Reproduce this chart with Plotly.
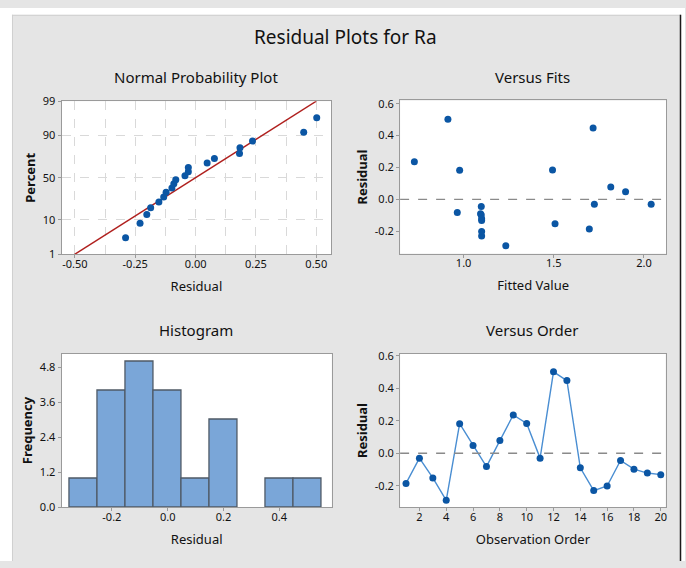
import statistics
import plotly.graph_objects as go

W, H = 686, 568

# Residuals in observation order and their fitted values
observation = list(range(1, 21))
residuals = [-0.186, -0.030, -0.152, -0.290, 0.182, 0.048, -0.082, 0.078, 0.236, 0.184,
             -0.030, 0.502, 0.448, -0.090, -0.230, -0.202, -0.044, -0.098, -0.122, -0.132]
fitted = [1.697, 1.725, 1.507, 1.234, 0.978, 1.898, 0.965, 1.816, 0.727, 1.493,
          2.040, 0.913, 1.718, 1.094, 1.100, 1.100, 1.098, 1.098, 1.100, 1.100]

pct_ticks = [1, 10, 50, 90, 99]
npp_xticks = [-0.50, -0.25, 0.00, 0.25, 0.50]
hist_yticks = [0.0, 1.2, 2.4, 3.6, 4.8]
hist_xticks = [-0.2, 0.0, 0.2, 0.4]
res_yticks = [-0.2, 0.0, 0.2, 0.4, 0.6]
fit_xticks = [1.0, 1.5, 2.0]
order_xticks = [2, 4, 6, 8, 10, 12, 14, 16, 18, 20]

nd = statistics.NormalDist()
n = len(residuals)
srt = sorted(residuals)
z_pts = [nd.inv_cdf((i + 1 - 0.3) / (n + 0.4)) for i in range(n)]
mu = statistics.mean(residuals)
sd = statistics.stdev(residuals)
z_lo, z_hi = nd.inv_cdf(0.01), nd.inv_cdf(0.99)

FONT = "Noto Sans"
DOT = "#0b56a4"
LINE = "#4a8ed2"
AXC = "#9a9a9a"


def fx(px):
    return px / W


def fy(py):
    return 1 - py / H


fig = go.Figure()

# Normal probability plot
fig.add_trace(go.Scatter(x=[mu + sd * z_lo, mu + sd * z_hi], y=[z_lo, z_hi], mode="lines",
                         line=dict(color="#b0201e", width=1.4), xaxis="x", yaxis="y",
                         showlegend=False, hoverinfo="skip"))
fig.add_trace(go.Scatter(x=srt, y=z_pts, mode="markers", marker=dict(color=DOT, size=7),
                         xaxis="x", yaxis="y", showlegend=False))

# Versus fits
fig.add_trace(go.Scatter(x=fitted, y=residuals, mode="markers", marker=dict(color=DOT, size=7),
                         xaxis="x2", yaxis="y2", showlegend=False))

# Histogram
fig.add_trace(go.Histogram(x=residuals, xbins=dict(start=-0.35, end=0.55, size=0.1),
                           marker=dict(color="#7aa6d8", line=dict(color="#4f5a66", width=1.3)),
                           xaxis="x3", yaxis="y3", showlegend=False))

# Versus order
fig.add_trace(go.Scatter(x=observation, y=residuals, mode="lines+markers",
                         line=dict(color=LINE, width=1.4), marker=dict(color=DOT, size=7),
                         xaxis="x4", yaxis="y4", showlegend=False))

tickfont = dict(family=FONT, size=11, color="#111")
xtitle_font = dict(family=FONT, size=13, color="#111")
ytitle_font = dict(family=FONT, size=13, color="#111", weight="bold")


def ax(domain, rng, tickvals, ticktext=None, **kw):
    d = dict(domain=domain, range=rng, tickvals=tickvals, showline=True, linecolor=AXC,
             linewidth=1, mirror=True, ticks="outside", ticklen=3, tickcolor=AXC,
             tickfont=tickfont, showgrid=False, zeroline=False, fixedrange=True)
    if ticktext is not None:
        d["ticktext"] = ticktext
    d.update(kw)
    return d


XSTAND = -4
XTSTAND = 12

fig.update_layout(
    width=W, height=H,
    margin=dict(l=0, r=0, t=0, b=0),
    paper_bgcolor="#e5e5e5",
    plot_bgcolor="white",
    font=dict(family=FONT, color="#111"),
    bargap=0,
    xaxis=ax([fx(61.7), fx(331.7)], [-0.555, 0.562], npp_xticks,
             [f"{v:.2f}" for v in npp_xticks], anchor="y", ticklabelstandoff=XSTAND,
             showgrid=True, gridcolor="#d9d9d9", griddash="dash",
             minor=dict(dtick=0.125, tick0=0, showgrid=True, gridcolor="#d9d9d9",
                        griddash="dash"),
             title=dict(text="Residual", font=xtitle_font, standoff=XTSTAND)),
    yaxis=ax([fy(253), fy(95.7)], [z_lo, z_hi], [nd.inv_cdf(p / 100) for p in pct_ticks],
             [str(p) for p in pct_ticks], anchor="x",
             showgrid=True, gridcolor="#d9d9d9", griddash="dash",
             title=dict(text="Percent", font=ytitle_font, standoff=4)),
    xaxis2=ax([fx(400.7), fx(667.3)], [0.648, 2.124], fit_xticks,
              [f"{v:.1f}" for v in fit_xticks], anchor="y2", ticklabelstandoff=XSTAND,
              title=dict(text="Fitted Value", font=xtitle_font, standoff=XTSTAND)),
    yaxis2=ax([fy(252.3), fy(95)], [-0.34, 0.62], res_yticks,
              [f"{v:.1f}" for v in res_yticks], anchor="x2",
              title=dict(text="Residual", font=ytitle_font, standoff=4)),
    xaxis3=ax([fx(61.7), fx(332.3)], [-0.38, 0.588], hist_xticks,
              [f"{v:.1f}" for v in hist_xticks], anchor="y3", ticklabelstandoff=XSTAND,
              title=dict(text="Residual", font=xtitle_font, standoff=XTSTAND)),
    yaxis3=ax([fy(513), fy(355)], [0, 5.28], hist_yticks,
              [f"{v:.1f}" for v in hist_yticks], anchor="x3",
              title=dict(text="Frequency", font=ytitle_font, standoff=4)),
    xaxis4=ax([fx(400.7), fx(666.7)], [0.56, 20.37], order_xticks, anchor="y4",
              ticklabelstandoff=XSTAND,
              title=dict(text="Observation Order", font=xtitle_font, standoff=XTSTAND)),
    yaxis4=ax([fy(513), fy(355)], [-0.334, 0.614], res_yticks,
              [f"{v:.1f}" for v in res_yticks], anchor="x4",
              title=dict(text="Residual", font=ytitle_font, standoff=4)),
)

# Zero reference lines on the residual panels
for xa, ya in (("x2", "y2"), ("x4", "y4")):
    fig.add_shape(type="line", xref=f"{xa} domain", yref=ya, x0=0, x1=1, y0=0, y1=0,
                  line=dict(color="#8a8a8a", width=1.3, dash="dash"))

# Window frame around the panel
fig.add_shape(type="rect", xref="paper", yref="paper", x0=0, x1=1, y0=fy(7), y1=1,
              line=dict(width=0), fillcolor="white", layer="below")
fig.add_shape(type="rect", xref="paper", yref="paper", x0=0, x1=fx(12), y0=0, y1=1,
              line=dict(width=0), fillcolor="white", layer="below")
fig.add_shape(type="rect", xref="paper", yref="paper", x0=fx(682), x1=1, y0=0, y1=1,
              line=dict(width=0), fillcolor="white", layer="below")
fig.add_shape(type="line", xref="paper", yref="paper", x0=fx(12), x1=fx(682), y0=fy(7.5), y1=fy(7.5),
              line=dict(color="#cfcfcf", width=1))
fig.add_shape(type="line", xref="paper", yref="paper", x0=fx(12.5), x1=fx(12.5), y0=0, y1=fy(7),
              line=dict(color="#cfcfcf", width=1))
fig.add_shape(type="line", xref="paper", yref="paper", x0=fx(681.5), x1=fx(681.5), y0=0, y1=fy(7),
              line=dict(color="#1a1a1a", width=1.5))

titles = [
    ("Residual Plots for Ra", 346, 30, 19),
    ("Normal Probability Plot", 196, 71, 15),
    ("Versus Fits", 533, 71, 15),
    ("Histogram", 196, 331, 15),
    ("Versus Order", 533, 331, 15),
]
for text, x, y, size in titles:
    fig.add_annotation(text=text, x=fx(x), y=fy(y), xref="paper", yref="paper",
                       showarrow=False, xanchor="center", yanchor="middle",
                       font=dict(family=FONT, size=size, color="#111"))

fig.write_html("out.html")
